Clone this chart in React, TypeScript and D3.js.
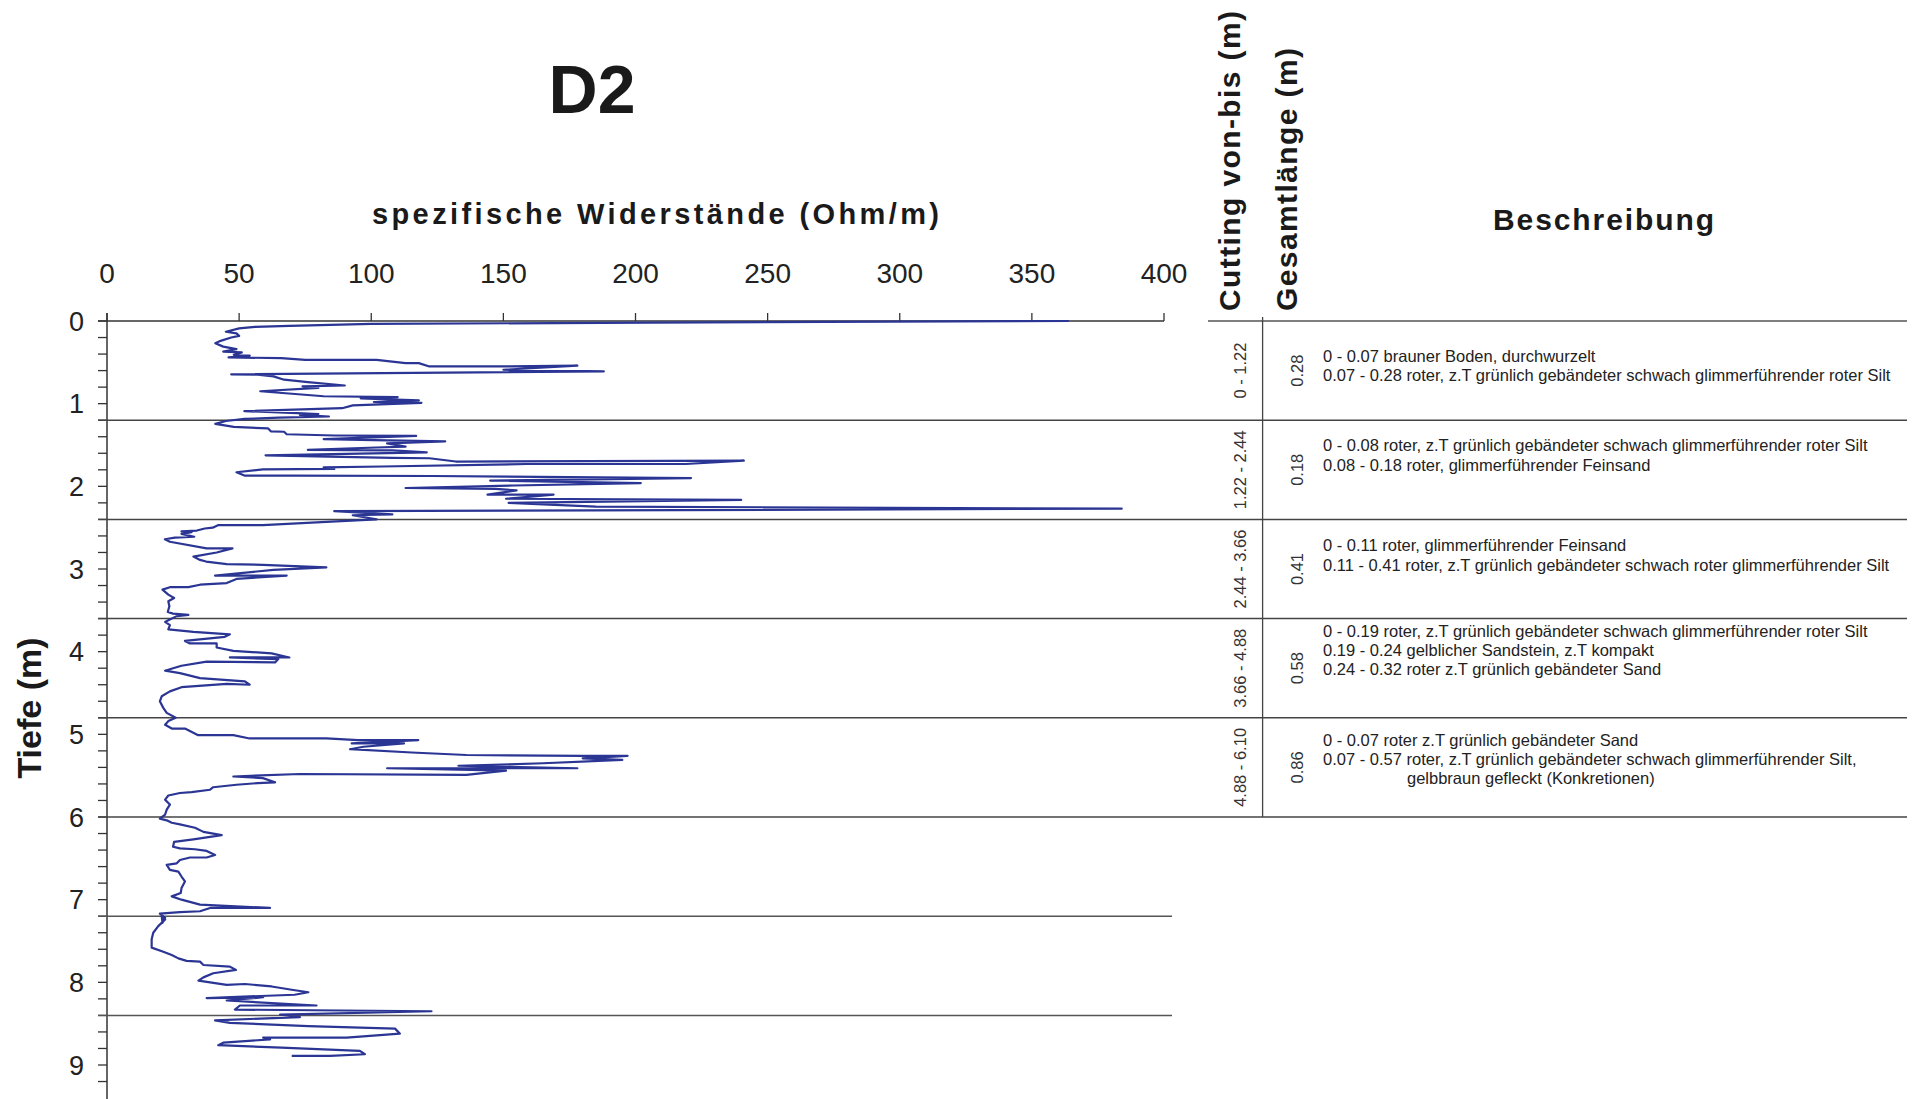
import React from 'react';
import * as d3 from 'd3';

// ---- resistivity log (Ohm/m) versus depth (m) ----
const resistivity = [
  364, 205, 100, 69, 56, 50, 45, 49, 50, 47, 43, 41, 44, 49, 44, 51, 48, 54, 46, 66,
  75, 102, 113, 118, 122, 150, 178, 150, 188, 47, 57, 63, 67, 76, 90, 74, 80, 58, 82, 110,
  96, 118, 101, 119, 93, 89, 52, 72, 80, 73, 84, 65, 52, 45, 41, 48, 61, 62, 67, 68,
  86, 117, 82, 101, 128, 106, 113, 102, 76, 108, 121, 60, 108, 122, 132, 241, 219, 159, 104, 82,
  86, 59, 49, 52, 70, 123, 221, 145, 202, 154, 113, 147, 155, 144, 169, 151, 240, 152, 185, 384,
  86, 108, 93, 102,
  83, 59, 42, 40, 37, 34, 28.2, 32, 28.2, 33, 25.7, 21.9, 23.8, 37.7, 47.5, 41.5, 32.7, 35.2, 37.5, 45.3,
  59, 83, 63, 40.9, 68, 49, 45.3, 35.2, 30.8, 23.8, 21, 23.2, 25.4, 23.2, 23.6, 23, 25, 30.8, 26.4, 23.2,
  22, 23.8, 23.2, 32.7, 46.5, 44.6, 29.5, 31.4, 41.5, 41.5, 47.8, 62.3, 69, 46.5, 64.8, 63.6, 37.7, 28.2, 25, 22,
  27.6, 35.2, 52.2, 54, 45.3, 28.2, 23.8, 20.7, 20, 21.3, 22.6, 26, 23.2,
  22, 24.5, 29.5, 34.5, 47.8, 54, 83, 95, 117.8, 92.6, 112.4, 97, 92, 115.3, 136, 180, 197, 180, 195, 165,
  133, 178, 106, 151, 136, 73, 47.8, 59, 63.6, 57, 49, 40.2, 39, 32, 27.6, 23.2, 22, 23.8, 22.6, 22,
  20, 22.6, 24.5, 27.6, 33.3, 36.5, 43.4, 32.7, 25.4, 25, 27.6, 33.3, 37.7, 40.9, 37.7, 31.4, 27.6, 26.4, 22.6, 23.8,
  27, 28.2, 29.5, 28.2, 27.9, 24.5, 28.2, 35.2, 61.7, 39, 35.2, 27.6, 20, 22, 21,
  20.7, 22, 19.4, 17.5, 16.9, 16.9, 21.3, 24.5, 27, 30.1, 35.2, 36.5, 46.5, 48.8, 40.2, 36.5, 34.6, 45.3, 52.2, 62.3,
  69.9, 76.2, 71, 37.7, 59.1, 45.3, 79.3, 50.3, 48.4, 122.8, 65.5, 73, 40.9, 46.5, 76.2, 109, 110.8, 90.7, 59.1, 61.7,
  44, 42.1, 66, 95.7, 97.6, 84.4, 69.9,
];

const depth = [
  0.0, 0.02, 0.035, 0.06, 0.07, 0.09, 0.13, 0.15, 0.18, 0.2, 0.24, 0.27, 0.31, 0.34, 0.37, 0.38, 0.41, 0.42, 0.44, 0.45,
  0.47, 0.47, 0.51, 0.51, 0.55, 0.55, 0.54, 0.59, 0.61, 0.645, 0.65, 0.67, 0.71, 0.74, 0.78, 0.79, 0.81, 0.85, 0.91, 0.92,
  0.935, 0.96, 0.98, 0.99, 1.02, 1.055, 1.09, 1.115, 1.125, 1.135, 1.155, 1.17, 1.185, 1.21, 1.245, 1.28, 1.3, 1.335, 1.34, 1.37,
  1.385, 1.39, 1.43, 1.44, 1.455, 1.48, 1.52, 1.53, 1.56, 1.565, 1.59, 1.625, 1.655, 1.66, 1.7, 1.69, 1.73, 1.73, 1.76, 1.77,
  1.79, 1.795, 1.83, 1.87, 1.87, 1.875, 1.9, 1.93, 1.96, 1.99, 2.02, 2.03, 2.05, 2.1, 2.1, 2.15, 2.165, 2.2, 2.245, 2.27,
  2.3, 2.34, 2.35, 2.4,
  2.43, 2.47, 2.47, 2.5, 2.51, 2.535, 2.545, 2.555, 2.575, 2.61, 2.62, 2.64, 2.67, 2.75, 2.75, 2.8, 2.85, 2.89, 2.91, 2.94,
  2.95, 2.98, 3.01, 3.08, 3.08, 3.12, 3.17, 3.19, 3.22, 3.22, 3.25, 3.31, 3.35, 3.39, 3.45, 3.52, 3.54, 3.555, 3.57, 3.62,
  3.64, 3.68, 3.73, 3.76, 3.79, 3.82, 3.87, 3.9, 3.9, 3.95, 3.99, 4.02, 4.07, 4.07, 4.09, 4.13, 4.12, 4.17, 4.2, 4.23,
  4.26, 4.32, 4.36, 4.4, 4.39, 4.43, 4.48, 4.54, 4.6, 4.68, 4.74, 4.8, 4.84,
  4.885, 4.93, 4.93, 5.01, 5.01, 5.05, 5.05, 5.07, 5.07, 5.11, 5.11, 5.15, 5.18, 5.22, 5.25, 5.26, 5.26, 5.29, 5.31, 5.35,
  5.38, 5.41, 5.41, 5.44, 5.49, 5.48, 5.51, 5.53, 5.58, 5.59, 5.61, 5.64, 5.67, 5.7, 5.71, 5.74, 5.79, 5.85, 5.91, 5.97,
  6.02, 6.04, 6.07, 6.09, 6.13, 6.18, 6.22, 6.27, 6.3, 6.36, 6.38, 6.39, 6.41, 6.46, 6.49, 6.49, 6.52, 6.56, 6.58, 6.64,
  6.66, 6.72, 6.78, 6.86, 6.92, 6.96, 7.0, 7.06, 7.1, 7.1, 7.14, 7.15, 7.17, 7.22, 7.28,
  7.2, 7.24, 7.32, 7.4, 7.48, 7.58, 7.63, 7.67, 7.71, 7.74, 7.75, 7.79, 7.81, 7.85, 7.89, 7.94, 7.98, 8.03, 8.02, 8.05,
  8.09, 8.12, 8.15, 8.19, 8.18, 8.22, 8.28, 8.28, 8.33, 8.35, 8.39, 8.42, 8.46, 8.49, 8.53, 8.56, 8.62, 8.67, 8.67, 8.69,
  8.73, 8.76, 8.79, 8.83, 8.87, 8.89, 8.89,
];

// ---- axes ----
const xTickValues = [0, 50, 100, 150, 200, 250, 300, 350, 400];
const yTickLabels = [0, 1, 2, 3, 4, 5, 6, 7, 8, 9];

// ---- lithology table ----
const tableBoundaries = [0, 1.2, 2.4, 3.6, 4.8, 6.0];
const extraBoundaries = [7.2, 8.4];
const cuttingRanges = ['0 - 1.22', '1.22 - 2.44', '2.44 - 3.66', '3.66 - 4.88', '4.88 - 6.10'];
const totalLengths = ['0.28', '0.18', '0.41', '0.58', '0.86'];
const descriptions = [
  ['0 - 0.07 brauner Boden, durchwurzelt',
   '0.07 - 0.28 roter, z.T grünlich gebändeter schwach glimmerführender roter Silt'],
  ['0 - 0.08 roter, z.T grünlich gebändeter schwach glimmerführender roter Silt',
   '0.08 - 0.18 roter, glimmerführender Feinsand'],
  ['0 - 0.11 roter, glimmerführender Feinsand',
   '0.11 - 0.41 roter, z.T grünlich gebändeter schwach roter glimmerführender Silt'],
  ['0 - 0.19 roter, z.T grünlich gebändeter schwach glimmerführender roter Silt',
   '0.19 - 0.24 gelblicher Sandstein, z.T kompakt',
   '0.24 - 0.32 roter z.T grünlich gebändeter Sand'],
  ['0 - 0.07 roter z.T grünlich gebändeter Sand',
   '0.07 - 0.57 roter, z.T grünlich gebändeter schwach glimmerführender Silt,',
   '\tgelbbraun gefleckt (Konkretionen)'],
];

// layout (pixel offsets of the first description line inside each row)
const descFirstOffsets = [41, 31, 32, 18, 28];

const FONT = 'Liberation Sans, Arial, Helvetica, sans-serif';

export default function App() {
  const x = d3.scaleLinear().domain([0, 400]).range([107, 1164]);
  const y = d3.scaleLinear().domain([0, 9]).range([321, 1065]);

  const pts = resistivity.map((v, i) => [v, depth[i]] as [number, number]);
  const line = d3.line<[number, number]>().x((d) => x(d[0])).y((d) => y(d[1]));

  const minorTicks = d3.range(0, 47).map((i) => i * 0.2);

  const tableLeft = 1208;
  const tableRight = 1907;
  const divX = 1262.6;

  return (
    <svg
      width={1916}
      height={1099}
      style={{ position: 'absolute', left: 0, top: 0, display: 'block', background: '#fff' }}
      fontFamily={FONT}
    >
      <rect x={0} y={0} width={1916} height={1099} fill="#fff" />

      {/* title */}
      <text x={592} y={113} textAnchor="middle" fontSize={68} fontWeight="bold" fill="#1a1a1a">
        D2
      </text>
      <text x={372} y={224} fontSize={29} fontWeight="bold" fill="#1a1a1a" textLength={567} lengthAdjust="spacing">
        spezifische Widerstände (Ohm/m)
      </text>

      {/* x axis (top) */}
      <line x1={98} x2={x(400)} y1={y(0)} y2={y(0)} stroke="#333" strokeWidth={1.5} />
      {xTickValues.map((t) => (
        <g key={'xt' + t}>
          <line x1={x(t)} x2={x(t)} y1={313} y2={y(0)} stroke="#333" strokeWidth={1.3} />
          <text x={x(t)} y={283} textAnchor="middle" fontSize={28} fill="#222">
            {t}
          </text>
        </g>
      ))}

      {/* y axis */}
      <line x1={x(0)} x2={x(0)} y1={313} y2={1099} stroke="#333" strokeWidth={1.5} />
      {minorTicks.map((t, i) => (
        <line key={'yt' + i} x1={98} x2={x(0)} y1={y(t)} y2={y(t)} stroke="#333" strokeWidth={1.3} />
      ))}
      {yTickLabels.map((t) => (
        <text key={'yl' + t} x={84} y={y(t) + 9.5} textAnchor="end" fontSize={27} fill="#222">
          {t}
        </text>
      ))}
      <text transform={`translate(41,708) rotate(-90)`} textAnchor="middle" fontSize={34} fontWeight="bold" fill="#1a1a1a">
        Tiefe (m)
      </text>

      {/* boundary lines */}
      <line x1={tableLeft} x2={tableRight} y1={y(0)} y2={y(0)} stroke="#555" strokeWidth={1.5} />
      {tableBoundaries.slice(1).map((b) => (
        <line key={'tb' + b} x1={98} x2={tableRight} y1={y(b)} y2={y(b)} stroke="#444" strokeWidth={1.5} />
      ))}
      {extraBoundaries.map((b) => (
        <line key={'eb' + b} x1={98} x2={1172} y1={y(b)} y2={y(b)} stroke="#555" strokeWidth={1.5} />
      ))}
      <line x1={divX} x2={divX} y1={317} y2={y(6.0)} stroke="#444" strokeWidth={1.3} />

      {/* table headers */}
      <text transform={`translate(1240,311) rotate(-90)`} fontSize={30} fontWeight="bold" fill="#1a1a1a" textLength={300} lengthAdjust="spacing">
        Cutting von-bis (m)
      </text>
      <text transform={`translate(1297,311) rotate(-90)`} fontSize={30} fontWeight="bold" fill="#1a1a1a" textLength={263} lengthAdjust="spacing">
        Gesamtlänge (m)
      </text>
      <text x={1493} y={230} fontSize={30} fontWeight="bold" fill="#1a1a1a" textLength={221} lengthAdjust="spacing">
        Beschreibung
      </text>

      {/* table rows */}
      {cuttingRanges.map((c, i) => {
        const top = y(tableBoundaries[i]);
        const bottom = y(tableBoundaries[i] + 1.2);
        const mid = (top + bottom) / 2;
        return (
          <g key={'row' + i}>
            <text transform={`translate(1245.5,${mid}) rotate(-90)`} textAnchor="middle" fontSize={16.5} fill="#333">
              {c}
            </text>
            <text transform={`translate(1302.5,${mid}) rotate(-90)`} textAnchor="middle" fontSize={16.5} fill="#333">
              {totalLengths[i]}
            </text>
            {descriptions[i].map((d, j) => {
              const indent = d.startsWith('\t');
              return (
                <text
                  key={'d' + j}
                  x={1323 + (indent ? 84 : 0)}
                  y={top + descFirstOffsets[i] + j * 19.3}
                  fontSize={16.5}
                  fill="#222"
                >
                  {indent ? d.slice(1) : d}
                </text>
              );
            })}
          </g>
        );
      })}

      {/* resistivity curve */}
      <path d={line(pts) || ''} fill="none" stroke="#2b3594" strokeWidth={2.2} strokeLinejoin="round" />
    </svg>
  );
}
